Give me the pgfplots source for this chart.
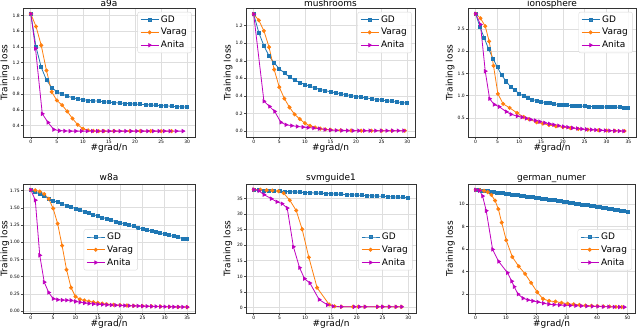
\documentclass[border=0pt]{standalone}
\usepackage{fontspec}
\setmainfont{DejaVu Sans}
\usepackage{pgfplots}
\pgfplotsset{compat=1.18}

\definecolor{gdblue}{HTML}{1F77B4}
\definecolor{vorange}{HTML}{FF7F0E}
\definecolor{amag}{HTML}{BF00BF}

\pgfplotsset{
  gd/.style={color=gdblue, mark=square*, mark size=1.5pt, line width=0.8pt},
  varag/.style={color=vorange, mark=*, mark size=1.6pt, line width=0.8pt},
  anita/.style={color=amag, mark=triangle*, mark size=1.8pt, mark options={rotate=-90}, line width=0.8pt},
  panel/.style={
    scale only axis, anchor=north west,
    axis line style={black!80, line width=0.6pt},
    grid=major, grid style={black!13, line width=0.7pt},
    tick align=outside, major tick length=2pt,
    tick style={black!70, line width=0.5pt},
    xtick pos=lower, ytick pos=left,
    /pgf/number format/assume math mode=true,
    ticklabel style={font=\fontsize{4.5}{5}\selectfont, inner sep=1pt},
    label style={font=\fontsize{9}{10}\selectfont},
    % pgfplots already shifts titles up by 6pt
    title style={font=\fontsize{9}{10}\selectfont, anchor=base, yshift=-2pt},
    xlabel={\#grad/n}, ylabel={Training loss},
    xlabel style={at={(axis description cs:0.5,0)}, anchor=base, yshift=-13pt},
    ylabel style={at={(axis description cs:-0.106,0.5)}, anchor=center},
    legend cell align=left,
    legend image code/.code={
      \draw[mark repeat=2, mark phase=2] plot coordinates {(0pt,0pt) (9pt,0pt) (18pt,0pt)};},
    legend style={font=\fontsize{9}{10.5}\selectfont, rounded corners=2pt,
        draw=black!15, fill=white, fill opacity=0.85, text opacity=1,
        inner xsep=2.5pt, inner ysep=1.5pt, row sep=0.6pt},
  },
  toprow/.style={title style={yshift=-2.5pt}},
}

\begin{document}
\begin{tikzpicture}
\useasboundingbox (0pt,0pt) rectangle (640pt,-330pt);

% a9a
\begin{axis}[panel, toprow, at={(23pt,-8pt)}, width=172pt, height=129pt,
    title={a9a}, xmin=-1.5, xmax=31.5, ymin=0.255, ymax=1.895,
    xtick={0,5,...,30}, ytick={0.4,0.6,...,1.8},
    yticklabel style={/pgf/number format/.cd, fixed, fixed zerofill, precision=1},
    legend style={at={(0.98,0.97)}, anchor=north east}]
\addplot[gd] coordinates {(0,1.82)(1,1.40)(2,1.14)(3,0.98)(4,0.885)(5,0.83)(6,0.80)(7,0.775)(8,0.755)(9,0.74)(10,0.73)(11,0.72)(12,0.715)(13,0.71)(14,0.703)(15,0.698)(16,0.692)(17,0.687)(18,0.682)(19,0.678)(20,0.674)(21,0.67)(22,0.666)(23,0.662)(24,0.658)(25,0.654)(26,0.65)(27,0.646)(28,0.642)(29,0.638)(30,0.634)};
\addplot[varag] coordinates {(0,1.82)(1,1.66)(2,1.42)(3,1.10)(4,0.83)(5,0.72)(6,0.66)(7,0.58)(8,0.49)(9,0.41)(10,0.36)(11,0.34)(12,0.333)(13,0.33)(14,0.33)(16,0.33)(19,0.33)(21,0.33)(23,0.33)(25,0.33)(27,0.33)};
\addplot[anita] coordinates {(0,1.82)(0.9,1.38)(2.2,0.55)(3.3,0.44)(4.4,0.35)(5.5,0.335)(6.5,0.332)(7.5,0.33)(8.6,0.33)(9.7,0.33)(10.8,0.33)(11.8,0.33)(12.8,0.33)(13.9,0.33)(15,0.33)(16,0.33)(17.1,0.33)(18.2,0.33)(19.2,0.33)(20.3,0.33)(21.3,0.33)(22.4,0.33)(23.5,0.33)(24.6,0.33)(25.6,0.33)(26.7,0.33)(27.9,0.33)(29.2,0.33)};
\legend{GD,Varag,Anita}
\end{axis}

% mushrooms
\begin{axis}[panel, toprow, at={(246pt,-8pt)}, width=169pt, height=129pt,
    title={mushrooms}, xmin=-1.5, xmax=31.5, ymin=-0.067, ymax=1.40,
    xtick={0,5,...,30}, ytick={0,0.2,...,1.2},
    yticklabel style={/pgf/number format/.cd, fixed, fixed zerofill, precision=1},
    legend style={at={(0.98,0.97)}, anchor=north east}]
\addplot[gd] coordinates {(0,1.33)(1,1.12)(2,0.97)(3,0.855)(4,0.775)(5,0.71)(6,0.66)(7,0.615)(8,0.58)(9,0.553)(10,0.53)(11,0.51)(12,0.49)(13,0.473)(14,0.46)(15,0.447)(16,0.436)(17,0.425)(18,0.414)(19,0.404)(20,0.394)(21,0.385)(22,0.376)(23,0.368)(24,0.36)(25,0.352)(26,0.345)(27,0.338)(28,0.331)(29,0.324)(30,0.318)};
\addplot[varag] coordinates {(0,1.33)(1,1.26)(2,1.14)(3,0.955)(4,0.70)(5,0.50)(6,0.37)(7,0.27)(8,0.19)(9,0.137)(10,0.09)(11,0.06)(12,0.042)(13,0.028)(14,0.02)(15,0.015)(17,0.01)(19,0.007)(21,0.005)(23,0.005)(25,0.005)(27,0.005)(29.5,0.005)};
\addplot[anita] coordinates {(0,1.33)(2.0,0.34)(3.1,0.28)(4.1,0.224)(5.3,0.10)(6.3,0.072)(7.4,0.062)(8.5,0.053)(9.6,0.046)(10.6,0.04)(11.7,0.035)(12.8,0.028)(13.9,0.018)(15,0.012)(16.1,0.009)(17.2,0.007)(18.3,0.006)(19.4,0.005)(20.5,0.005)(21.6,0.005)(22.7,0.005)(23.8,0.005)(24.9,0.005)(26,0.005)(27.1,0.005)(28.2,0.005)(29.3,0.005)};
\legend{GD,Varag,Anita}
\end{axis}

% ionosphere
\begin{axis}[panel, toprow, at={(468pt,-8pt)}, width=168pt, height=129pt,
    title={ionosphere}, xmin=-1.75, xmax=36.75, ymin=0.07, ymax=2.97,
    xtick={0,5,...,35}, ytick={0.5,1.0,...,2.5},
    yticklabel style={/pgf/number format/.cd, fixed, fixed zerofill, precision=1},
    legend style={at={(0.98,0.97)}, anchor=north east}]
\addplot[gd] coordinates {(0,2.84)(1,2.54)(2,2.29)(3,2.04)(4,1.83)(5,1.635)(6,1.455)(7,1.32)(8,1.20)(9,1.12)(10,1.045)(11,0.99)(12,0.945)(13,0.912)(14,0.885)(15,0.862)(16,0.843)(17,0.827)(18,0.813)(19,0.802)(20,0.792)(21,0.784)(22,0.777)(23,0.771)(24,0.766)(25,0.761)(26,0.757)(27,0.753)(28,0.75)(29,0.747)(30,0.744)(31,0.741)(32,0.739)(33,0.737)(34,0.735)(35,0.733)};
\addplot[varag] coordinates {(0,2.84)(1.1,2.74)(2.2,2.56)(3.1,2.22)(4.1,1.67)(5.1,1.04)(6.3,0.815)(7.8,0.725)(9.5,0.61)(11,0.52)(12.2,0.47)(14,0.40)(15.4,0.37)(16.8,0.34)(18.4,0.31)(20,0.29)(21.7,0.27)(23.5,0.25)(25.7,0.235)(28.1,0.222)(30,0.215)(31.9,0.21)(34.1,0.205)};
\addplot[anita] coordinates {(0,2.84)(1.1,2.60)(2.2,1.55)(3.2,0.93)(4.25,0.80)(5.4,0.75)(7,0.64)(8.1,0.58)(9.5,0.54)(10.6,0.515)(11.6,0.49)(12.6,0.465)(13.7,0.44)(14.7,0.415)(15.8,0.39)(16.9,0.365)(17.9,0.345)(19,0.325)(20.1,0.305)(21.1,0.29)(22.2,0.275)(23.3,0.262)(24.3,0.25)(25.4,0.242)(26.5,0.235)(27.5,0.228)(28.6,0.222)(29.7,0.216)(30.7,0.212)(31.8,0.208)(32.9,0.205)(33.9,0.203)};
\legend{GD,Varag,Anita}
\end{axis}

% w8a
\begin{axis}[panel, at={(23pt,-184pt)}, width=172pt, height=129pt,
    title={w8a}, xmin=-1.75, xmax=36.75, ymin=-0.028, ymax=1.845,
    xtick={0,5,...,35}, ytick={0,0.25,...,1.75},
    yticklabel style={/pgf/number format/.cd, fixed, fixed zerofill, precision=2},
    legend style={at={(0.51,0.49)}, anchor=center}]
\addplot[gd] coordinates {(0,1.76)(1,1.73)(2,1.70)(3,1.67)(4,1.635)(5,1.605)(6,1.58)(7,1.555)(8,1.53)(9,1.51)(10,1.49)(11,1.465)(12,1.445)(13,1.42)(14,1.40)(15,1.38)(16,1.36)(17,1.34)(18,1.32)(19,1.30)(20,1.285)(21,1.265)(22,1.245)(23,1.23)(24,1.21)(25,1.195)(26,1.18)(27,1.16)(28,1.145)(29,1.13)(30,1.115)(31,1.10)(32,1.085)(33,1.07)(34,1.055)(35,1.045)};
\addplot[varag] coordinates {(0,1.76)(1,1.755)(2,1.735)(3,1.70)(4,1.63)(5,1.49)(6,1.27)(7,0.95)(8,0.60)(9,0.34)(10,0.21)(11,0.17)(12,0.155)(13,0.14)(14,0.13)(15,0.12)(16,0.11)(17,0.10)(18.5,0.092)(20,0.086)(21.5,0.081)(23,0.077)(25,0.073)(27,0.07)(29,0.066)(31,0.063)(33,0.06)(35,0.057)};
\addplot[anita] coordinates {(0,1.76)(1,1.61)(2,0.81)(3,0.42)(4,0.27)(5,0.18)(6,0.165)(7,0.16)(8,0.158)(9,0.155)(10,0.14)(11,0.128)(12,0.118)(13,0.11)(14,0.104)(15,0.099)(16,0.095)(17,0.091)(18,0.088)(19,0.085)(20,0.082)(21,0.08)(22,0.078)(23,0.076)(24,0.074)(25,0.072)(26,0.07)(27,0.068)(28,0.067)(29,0.065)(30,0.064)(31,0.062)(32,0.061)(33,0.06)(34,0.059)(35,0.058)};
\legend{GD,Varag,Anita}
\end{axis}

% svmguide1
\begin{axis}[panel, at={(246pt,-184pt)}, width=170pt, height=129pt,
    title={svmguide1}, xmin=-1.5, xmax=31.5, ymin=-1.7, ymax=39.6,
    xtick={0,5,...,30}, ytick={0,5,...,35},
    legend style={at={(0.98,0.49)}, anchor=east}]
\addplot[gd] coordinates {(0,37.70)(1,37.62)(2,37.54)(3,37.46)(4,37.37)(5,37.29)(6,37.21)(7,37.13)(8,37.05)(9,36.96)(10,36.88)(11,36.80)(12,36.72)(13,36.64)(14,36.56)(15,36.47)(16,36.39)(17,36.31)(18,36.23)(19,36.15)(20,36.07)(21,35.98)(22,35.90)(23,35.82)(24,35.74)(25,35.66)(26,35.58)(27,35.49)(28,35.41)(29,35.33)(30,35.25)};
\addplot[varag] coordinates {(0,37.8)(1.3,37.8)(2.5,37.6)(3.6,37.5)(4.8,37.3)(5.8,36.7)(7,34.4)(8.25,31.1)(9.4,25.1)(10.7,16.1)(12.3,6.4)(14.65,1.0)(15.7,0.45)(17,0.34)(19.3,0.3)(20.3,0.3)(21.6,0.3)(24,0.3)(25,0.3)(26.3,0.3)(27.6,0.3)(28.7,0.3)};
\addplot[anita] coordinates {(0,37.8)(1,37.4)(2,36.2)(3.4,34.9)(4.5,33.9)(5.5,33.3)(6.5,31.9)(7.7,19.5)(8.9,12.8)(9.85,9.3)(10.9,7.9)(12.7,2.6)(14.3,0.9)(15.4,0.45)(17,0.3)(19.5,0.3)(20.5,0.3)(21.6,0.3)(24,0.3)(25,0.3)(26.3,0.3)(27.6,0.3)(28.7,0.3)};
\legend{GD,Varag,Anita}
\end{axis}

% german_numer
\begin{axis}[panel, at={(468pt,-184pt)}, width=167pt, height=129pt,
    title={german\_numer}, xmin=-2.5, xmax=52.5, ymin=0.33, ymax=11.77,
    xtick={0,10,...,50}, ytick={2,4,...,10},
    legend style={at={(0.98,0.49)}, anchor=east}]
\addplot[gd] coordinates {(0,11.25)(1,11.218)(2,11.185)(3,11.153)(4,11.120)(5,11.087)(6,11.053)(7,11.019)(8,10.985)(9,10.951)(10,10.916)(11,10.881)(12,10.846)(13,10.810)(14,10.775)(15,10.739)(16,10.702)(17,10.665)(18,10.629)(19,10.591)(20,10.554)(21,10.516)(22,10.478)(23,10.440)(24,10.401)(25,10.363)(26,10.323)(27,10.284)(28,10.244)(29,10.204)(30,10.164)(31,10.123)(32,10.083)(33,10.042)(34,10.000)(35,9.959)(36,9.917)(37,9.875)(38,9.832)(39,9.789)(40,9.746)(41,9.703)(42,9.659)(43,9.615)(44,9.571)(45,9.527)(46,9.482)(47,9.437)(48,9.392)(49,9.346)(50,9.30)};
\addplot[varag] coordinates {(0,11.25)(1.4,11.23)(2.8,11.17)(4,11.05)(5.2,10.8)(6.4,10.3)(7.5,9.55)(8.6,8.35)(10.1,6.78)(12.1,5.3)(14.2,4.47)(16.3,3.8)(18.3,3.0)(20.3,2.18)(22.2,1.58)(24.2,1.40)(26.3,1.34)(28.3,1.24)(30.3,1.16)(32.3,1.1)(34.2,1.05)(36.2,1.0)(38.2,0.97)(40.2,0.94)(42.1,0.92)(44.1,0.9)(46.2,0.88)(48.1,0.86)};
\addplot[anita] coordinates {(0,11.25)(1.3,11.18)(2.3,10.7)(3.5,9.4)(5.6,5.97)(7.6,4.9)(10.5,3.9)(11.9,3.15)(12.7,2.66)(14,2.0)(15.6,1.64)(17.2,1.49)(18.8,1.40)(20.5,1.31)(22.3,1.2)(24.1,1.11)(25.8,1.07)(27.6,1.04)(29.4,1.02)(31.2,1.0)(33,0.98)(34.8,0.96)(36.6,0.94)(38.4,0.92)(40.2,0.91)(42,0.89)(43.8,0.88)(45.6,0.87)(47.4,0.86)(49,0.85)};
\legend{GD,Varag,Anita}
\end{axis}
\end{tikzpicture}
\end{document}
